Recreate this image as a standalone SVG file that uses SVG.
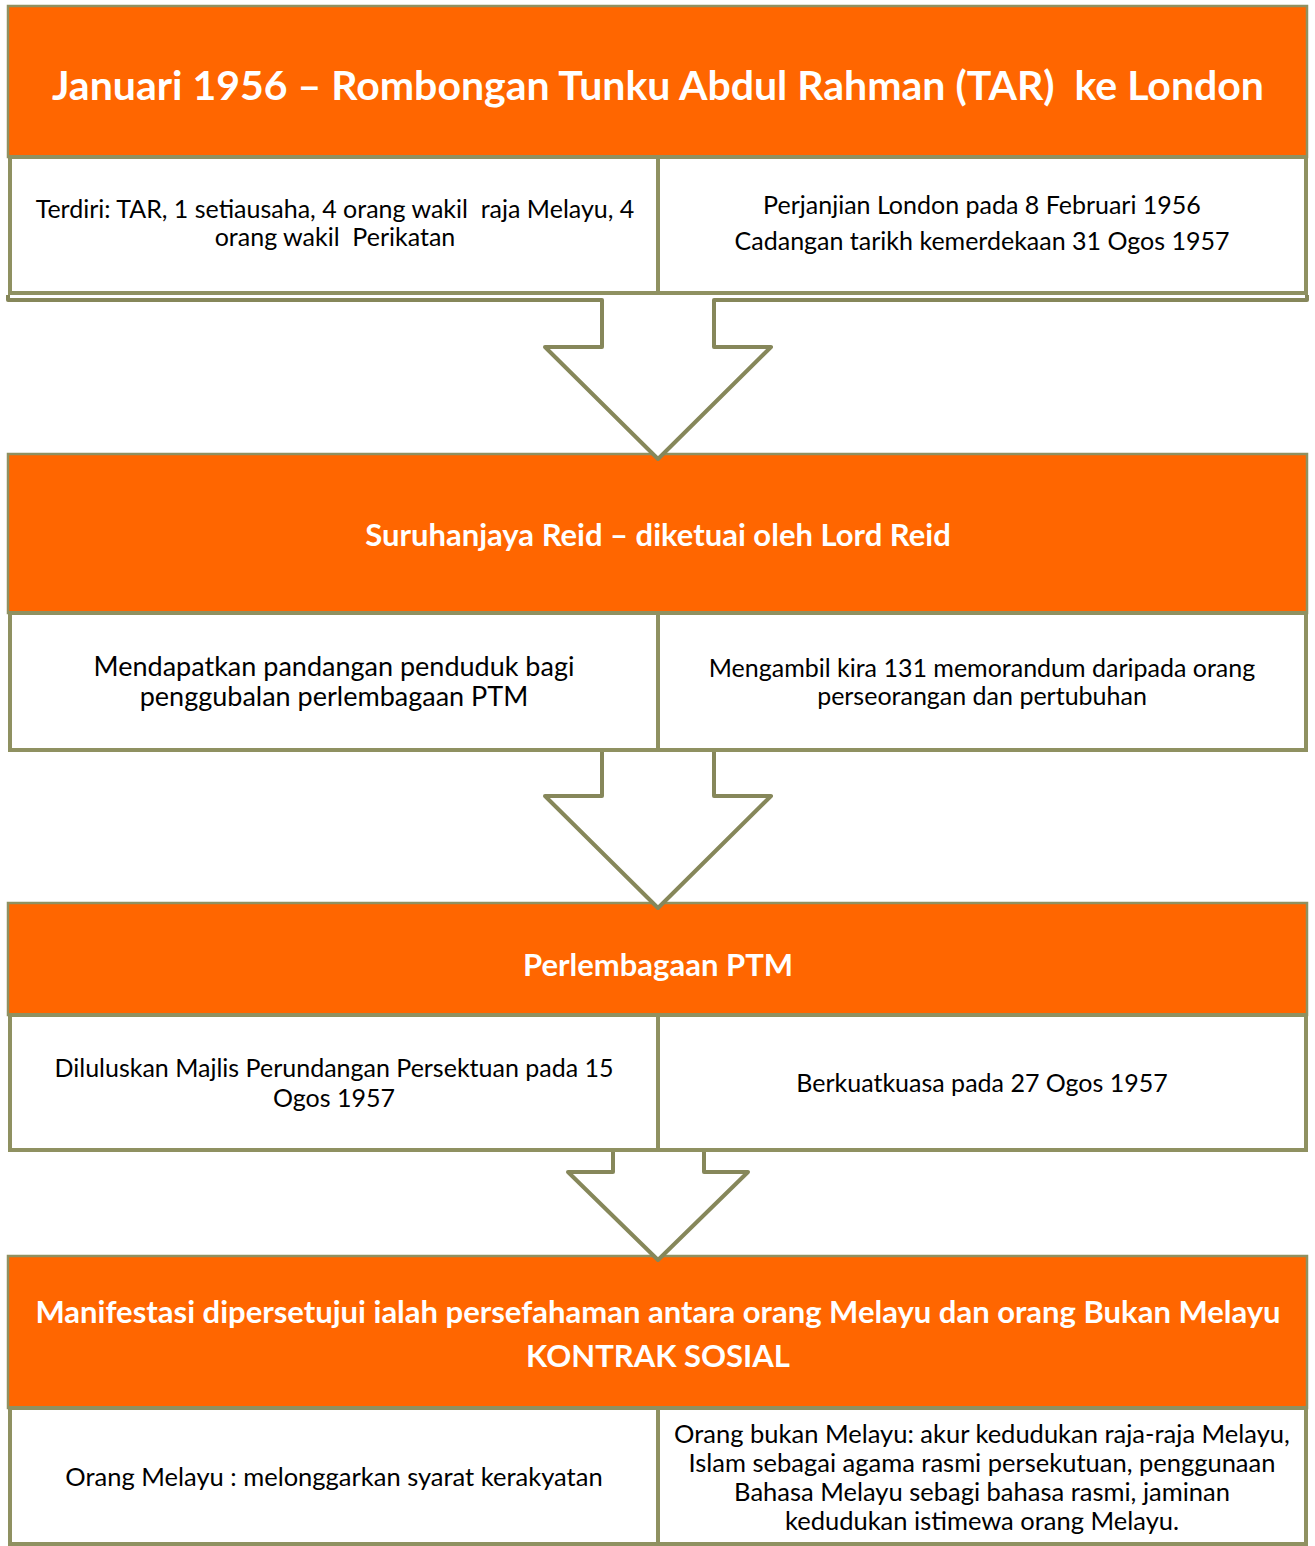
<svg xmlns="http://www.w3.org/2000/svg" width="1315" height="1546" viewBox="0 0 1315 1546">
<style>
.hd{fill:#FF6600;stroke:#8F9161;stroke-width:2.5}
.bx{fill:#FFFFFF;stroke:#8F9161;stroke-width:4}
.ar{fill:#FFFFFF;stroke:#86875A;stroke-width:4;stroke-linejoin:round}
text{white-space:pre}
.ht{font-family:Lato,"Open Sans",sans-serif;font-weight:bold;fill:#FFFFFF;text-anchor:middle;font-size:31px}
.h1{font-size:41px}
.bt{font-family:Lato,"Open Sans",sans-serif;fill:#000000;text-anchor:middle;font-size:25px}
.b27{font-size:27px}
.b255{font-size:25.5px}
</style>
<rect width="1315" height="1546" fill="#FFFFFF"/>
<g id="stage1-header">
<rect class="hd" x="8" y="6" width="1299" height="151"/>
<text class="ht h1" x="658" y="100" xml:space="preserve">Januari 1956 – Rombongan Tunku Abdul Rahman (TAR)  ke London</text>
</g>
<g id="stage1-left">
<rect class="bx" x="10" y="157" width="648" height="136"/>
<text class="bt" x="335" y="218" xml:space="preserve">Terdiri: TAR, 1 setiausaha, 4 orang wakil  raja Melayu, 4</text>
<text class="bt" x="335" y="246" xml:space="preserve">orang wakil  Perikatan</text>
</g>
<g id="stage1-right">
<rect class="bx" x="658" y="157" width="648" height="136"/>
<text class="bt" x="982" y="214">Perjanjian London pada 8 Februari 1956</text>
<text class="bt" x="982" y="250">Cadangan tarikh kemerdekaan 31 Ogos 1957</text>
</g>
<g id="stage2-header">
<rect class="hd" x="8" y="454" width="1299" height="159"/>
<text class="ht" x="658" y="546">Suruhanjaya Reid – diketuai oleh Lord Reid</text>
</g>
<g id="stage2-left">
<rect class="bx" x="10" y="613" width="648" height="137"/>
<text class="bt b27" x="334" y="676">Mendapatkan pandangan penduduk bagi</text>
<text class="bt b27" x="334" y="706">penggubalan perlembagaan PTM</text>
</g>
<g id="stage2-right">
<rect class="bx" x="658" y="613" width="648" height="137"/>
<text class="bt" x="982" y="677">Mengambil kira 131 memorandum daripada orang</text>
<text class="bt" x="982" y="705">perseorangan dan pertubuhan</text>
</g>
<g id="stage3-header">
<rect class="hd" x="8" y="903" width="1299" height="112"/>
<text class="ht" x="658" y="976">Perlembagaan PTM</text>
</g>
<g id="stage3-left">
<rect class="bx" x="10" y="1015" width="648" height="135"/>
<text class="bt" x="334" y="1077">Diluluskan Majlis Perundangan Persektuan pada 15</text>
<text class="bt" x="334" y="1107">Ogos 1957</text>
</g>
<g id="stage3-right">
<rect class="bx" x="658" y="1015" width="648" height="135"/>
<text class="bt" x="982" y="1092">Berkuatkuasa pada 27 Ogos 1957</text>
</g>
<g id="stage4-header">
<rect class="hd" x="8" y="1256" width="1299" height="152"/>
<text class="ht" x="658" y="1323">Manifestasi dipersetujui ialah persefahaman antara orang Melayu dan orang Bukan Melayu</text>
<text class="ht" x="658" y="1367">KONTRAK SOSIAL</text>
</g>
<g id="stage4-left">
<rect class="bx" x="10" y="1408" width="648" height="136"/>
<text class="bt b255" x="334" y="1486">Orang Melayu : melonggarkan syarat kerakyatan</text>
</g>
<g id="stage4-right">
<rect class="bx" x="658" y="1408" width="648" height="136"/>
<text class="bt b255" x="982" y="1443">Orang bukan Melayu: akur kedudukan raja-raja Melayu,</text>
<text class="bt b255" x="982" y="1472">Islam sebagai agama rasmi persekutuan, penggunaan</text>
<text class="bt b255" x="982" y="1501">Bahasa Melayu sebagi bahasa rasmi, jaminan</text>
<text class="bt b255" x="982" y="1530">kedudukan istimewa orang Melayu.</text>
</g>
<g id="connectors">
<path class="ar" d="M8,295 L8,300 L602,300 L602,347 L545,347 L658,459 L771,347 L714,347 L714,300 L1307,300 L1307,295"/>
<path class="ar" d="M602,752 L602,796 L545,796 L658,908 L771,796 L714,796 L714,752"/>
<path class="ar" d="M613,1152 L613,1172 L568,1172 L658,1260 L748,1172 L704,1172 L704,1152"/>
</g>
</svg>
